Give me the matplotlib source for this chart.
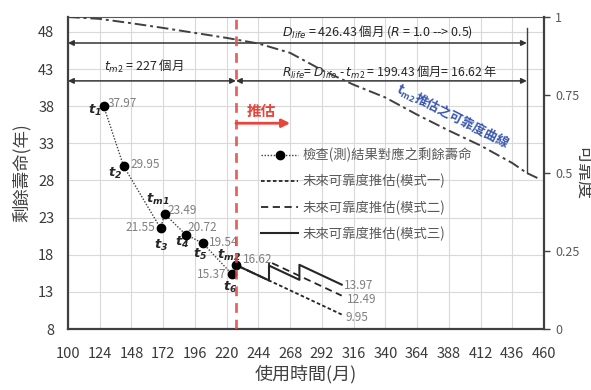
import matplotlib
matplotlib.use('Agg')
import matplotlib.pyplot as plt

plt.rcParams['font.family'] = ['Noto Sans CJK TC', 'DejaVu Sans']
plt.rcParams['mathtext.fontset'] = 'custom'
plt.rcParams['mathtext.rm'] = 'Noto Sans CJK TC'
plt.rcParams['mathtext.it'] = 'DejaVu Sans:italic'
plt.rcParams['mathtext.bf'] = 'Noto Sans CJK TC:bold'
plt.rcParams['mathtext.bfit'] = 'DejaVu Sans:italic:bold'
plt.rcParams['axes.unicode_minus'] = False

# inspection results: month of use -> remaining life (years)
insp_month = [127, 142, 170, 173, 189, 202, 224, 227]
insp_life = [37.97, 29.95, 21.55, 23.49, 20.72, 19.54, 15.37, 16.62]

# future reliability projections starting at t_m2
mode1_month = [227, 307]
mode1_life = [16.62, 9.95]
mode2_month = [227, 252, 252, 307]
mode2_life = [16.62, 14.54, 17.07, 12.49]
mode3_month = [227, 252, 252, 275, 275, 307]
mode3_life = [16.62, 14.54, 16.54, 14.62, 16.64, 13.97]

# reliability curve estimated at t_m2 (right axis)
rel_month = [100, 124, 148, 172, 196, 220, 244, 268, 292, 316, 340, 364, 388, 412, 436, 447, 455]
rel_value = [1.0, 0.994, 0.98, 0.965, 0.949, 0.933, 0.915, 0.885, 0.83, 0.783, 0.742, 0.687, 0.636, 0.588, 0.532, 0.5, 0.484]

t_m2 = 227
d_end = 447

xticks = list(range(100, 461, 24))
yticks = list(range(8, 49, 5))
rticks = [0, 0.25, 0.5, 0.75, 1]
rtick_labels = ['0', '0.25', '0.5', '0.75', '1']

dark = '#404040'
grey = '#7f7f7f'

fig = plt.figure(figsize=(5.91, 3.9), dpi=100)
ax = fig.add_axes([0.1151, 0.1564, 0.8054, 0.8])
ax2 = ax.twinx()

ax.set_xlim(100, 460)
ax.set_ylim(8, 50)
ax.set_xticks(xticks)
ax.set_yticks(yticks)
ax.grid(True, color='#d9d9d9', lw=0.8)
ax.set_axisbelow(True)
ax.tick_params(length=0, labelsize=10.5, labelcolor='#3a3a3a')
ax.tick_params(axis='x', pad=13)
ax.tick_params(axis='y', pad=10)
for s in ['left', 'bottom']:
    ax.spines[s].set_color(dark)
    ax.spines[s].set_linewidth(1.6)
ax.spines['top'].set_color('#595959')
ax.spines['right'].set_visible(False)

ax2.set_ylim(0, 1)
ax2.set_yticks(rticks)
ax2.set_yticklabels(rtick_labels)
ax2.tick_params(direction='out', length=4, width=1, color=dark,
                labelsize=9, labelcolor='#595959', pad=4)
for s in ['left', 'bottom', 'top']:
    ax2.spines[s].set_visible(False)
ax2.spines['right'].set_color(dark)
ax2.spines['right'].set_linewidth(1.6)

ax.set_xlabel('使用時間(月)', fontsize=13, color=dark, labelpad=3)
ax.set_ylabel('剩餘壽命(年)', fontsize=12.5, color=dark, labelpad=5)
ax2.set_ylabel('可靠度', fontsize=13, color=dark, rotation=270, labelpad=9)

# data lines
l0, = ax.plot(insp_month, insp_life, color=dark, lw=1, ls=(0, (1, 1.2)),
              marker='o', ms=6, mfc='black', mec='black', zorder=4,
              label='檢查(測)結果對應之剩餘壽命')
l1, = ax.plot(mode1_month, mode1_life, color='#262626', lw=1.3, ls=(0, (2, 1.3)),
              label='未來可靠度推估(模式一)', zorder=3)
l2, = ax.plot(mode2_month, mode2_life, color='#262626', lw=1.3, ls=(0, (4, 2.5)),
              label='未來可靠度推估(模式二)', zorder=3)
l3, = ax.plot(mode3_month, mode3_life, color='#262626', lw=1.5, ls='-',
              label='未來可靠度推估(模式三)', zorder=3)

ax.axvline(t_m2, color='#e04a40', lw=2, ls=(0, (3.5, 2.5)), alpha=0.85, zorder=5)

# reliability curve
ax2.plot(rel_month, rel_value, color=dark, lw=1.4, ls=(0, (6, 2, 1.5, 2)))
ax2.plot([d_end, d_end], [0.5, 0.965], color=dark, lw=1)

# dimension arrows
arr = dict(arrowstyle='<|-|>', color='#333333', lw=1.1, shrinkA=0, shrinkB=0,
           mutation_scale=8)
ax.annotate('', xy=(d_end, 46.5), xytext=(100, 46.5), arrowprops=arr)
ax.annotate('', xy=(t_m2, 41.4), xytext=(100, 41.4), arrowprops=arr)
ax.annotate('', xy=(d_end, 41.4), xytext=(t_m2, 41.4), arrowprops=arr)

ax.text(262, 48.0, r'$D_{life}$ = 426.43 個月 ($R$ = 1.0 --> 0.5)', fontsize=9,
        color='#262626', va='center', ha='left')
ax.text(157, 43.3, r'$t_{m2}$ = 227 個月', fontsize=9, color='#262626',
        va='center', ha='center')
ax.text(262, 42.6, r'$R_{life}$= $D_{life}$ - $t_{m2}$ = 199.43 個月= 16.62 年',
        fontsize=8.8, color='#262626', va='center', ha='left')

# projection marker
ax.annotate('', xy=(268, 35.7), xytext=(t_m2, 35.7),
            arrowprops=dict(arrowstyle='-|>', color='#e8453c', lw=2,
                            mutation_scale=12, shrinkA=0, shrinkB=0))
ax.text(246.5, 37.3, '推估', fontsize=10.5, fontweight='bold', color='#e8453c',
        ha='center', va='center')

ax.text(391, 36.6, r'$\mathbf{t_{m2}推估之可靠度曲線}$', fontsize=9.3,
        color='#3a58b0', rotation=-27, ha='center', va='center')

# point labels
tl = dict(fontsize=9.5, color='#262626', ha='center', va='center')
vl = dict(fontsize=8.5, color=grey, va='center')
ax.text(120.5, 37.4, r'$\mathbfit{t_1}$', **tl)
ax.text(130, 38.4, '37.97', ha='left', **vl)
ax.text(136, 29.0, r'$\mathbfit{t_2}$', **tl)
ax.text(147, 30.2, '29.95', ha='left', **vl)
ax.text(166, 21.6, '21.55', ha='right', **vl)
ax.text(170.3, 19.3, r'$\mathbfit{t_3}$', **tl)
ax.text(168, 25.4, r'$\mathbfit{t_{m1}}$', **tl)
ax.text(175.5, 23.9, '23.49', ha='left', **vl)
ax.text(190, 21.7, '20.72', ha='left', **vl)
ax.text(186, 19.6, r'$\mathbfit{t_4}$', **tl)
ax.text(206.5, 19.7, '19.54', ha='left', **vl)
ax.text(200, 18.0, r'$\mathbfit{t_5}$', **tl)
ax.text(221.5, 17.9, r'$\mathbfit{t_{m2}}$', **tl)
ax.text(232, 17.3, '16.62', ha='left', **vl)
ax.text(219.5, 15.4, '15.37', ha='right', **vl)
ax.text(223, 13.6, r'$\mathbfit{t_6}$', **tl)
ax.text(309, 13.8, '13.97', ha='left', **vl)
ax.text(311, 12.0, '12.49', ha='left', **vl)
ax.text(310, 9.6, '9.95', ha='left', **vl)

leg = ax2.legend(handles=[l0, l1, l2, l3], loc='upper left',
                 bbox_to_anchor=(0.40, 0.59), frameon=False, fontsize=9.6,
                 handlelength=2.8, handletextpad=0.3, labelspacing=0.88,
                 borderpad=0.2, borderaxespad=0)
for t in leg.get_texts():
    t.set_color('#595959')

plt.savefig('out.png', dpi=100)
plt.close()
